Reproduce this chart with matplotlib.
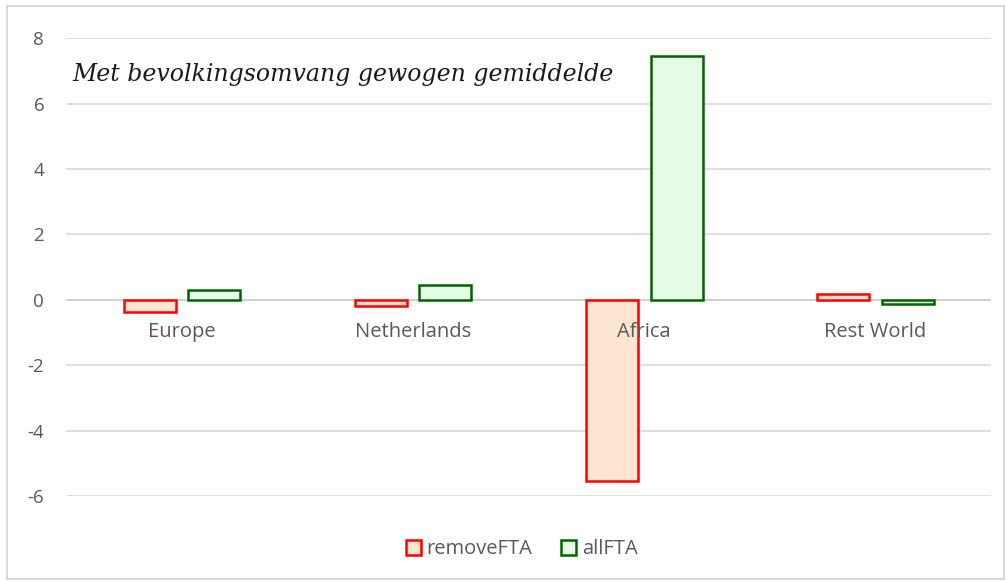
import matplotlib.pyplot as plt
import numpy as np

# Values
categories = ['Europe', 'Netherlands', 'Africa', 'Rest World']
remove_fta = [-0.37, -0.20, -5.55, 0.17]
all_fta = [0.31, 0.45, 7.46, -0.12]
yticks = [-6, -4, -2, 0, 2, 4, 6, 8]

fig = plt.figure(figsize=(10.07, 5.82), dpi=100)

# light chart border like the Excel chart area
border = plt.Rectangle((0.007, 0.005), 0.99, 0.985, transform=fig.transFigure,
                       fill=False, edgecolor='#d9d9d9', linewidth=1.5)
fig.patches.append(border)

ax = fig.add_axes([0.066, 0.148, 0.918, 0.786])

x = np.arange(len(categories))
w = 0.225
off = 0.14
ax.bar(x - off, remove_fta, w, color='#fde5d1', edgecolor='#ff0000', linewidth=1.8,
       label='removeFTA', zorder=3)
ax.bar(x + off, all_fta, w, color='#e5fbe5', edgecolor='#006400', linewidth=1.8,
       label='allFTA', zorder=3)

ax.set_xlim(-0.5, len(categories) - 0.5)
ax.set_ylim(-6, 8)
ax.set_yticks(yticks)
ax.set_yticklabels([str(v) for v in yticks], fontsize=13.5, color='#595959',
                   family='Open Sans')
ax.tick_params(axis='y', length=0, pad=16)
ax.set_xticks([])
ax.grid(axis='y', color='#d9d9d9', linewidth=1.2, zorder=0)
ax.axhline(0, color='#d0d0d0', linewidth=1.4, zorder=2)
for s in ax.spines.values():
    s.set_visible(False)

# category labels sit just below the zero line
for xi, name in zip(x, categories):
    ax.annotate(name, (xi, 0), xytext=(0, -16), textcoords='offset points',
                ha='center', va='top', fontsize=14.5, color='#595959',
                family='Open Sans', zorder=4)

ax.text(0.006, 0.922, 'Met bevolkingsomvang gewogen gemiddelde',
        transform=ax.transAxes, fontsize=17, style='italic',
        family='DejaVu Serif', color='#1a1a1a', va='center', ha='left')

leg = fig.legend(loc='lower center', bbox_to_anchor=(0.518, 0.008), ncol=2,
                 frameon=False, handlelength=0.75, handleheight=0.75,
                 handletextpad=0.3, columnspacing=1.4,
                 prop={'family': 'Open Sans', 'size': 14.5})
for t in leg.get_texts():
    t.set_color('#595959')

fig.savefig('out.png', dpi=100)
